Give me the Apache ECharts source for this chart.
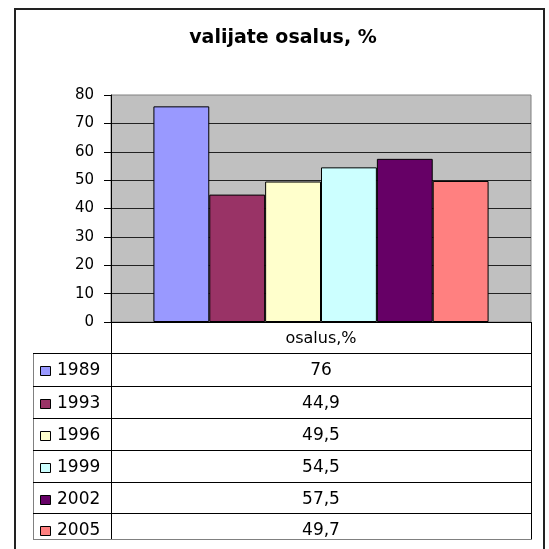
<!DOCTYPE html>
<html>
<head>
<meta charset="utf-8">
<script src="https://cdn.jsdelivr.net/npm/echarts@6/dist/echarts.min.js"></script>
<style>
html,body{margin:0;padding:0;background:#fff;}
#c{width:549px;height:549px;}
</style>
</head>
<body>
<div id="c"></div>
<script>
var titleText = 'valijate osalus, %';
var category = ['osalus,%'];
var years = ['1989', '1993', '1996', '1999', '2002', '2005'];
var values = [76, 44.9, 49.5, 54.5, 57.5, 49.7];
var valueLabels = ['76', '44,9', '49,5', '54,5', '57,5', '49,7'];
var colors = ['#9999FF', '#993366', '#FFFFCC', '#CCFFFF', '#660066', '#FF8080'];
var yTicks = [0, 10, 20, 30, 40, 50, 60, 70, 80];

var chart = echarts.init(document.getElementById('c'), null, {renderer: 'canvas'});

var plotL = 111, plotR = 531, plotT = 95, plotB = 322;
var tableL = 33;
var rowTops = [353, 386, 418, 450, 482, 513];
var tableBottom = 539;
var FONT = 'DejaVu Sans';

var series = years.map(function (y, i) {
  return {
    name: y,
    type: 'bar',
    data: [values[i]],
    barGap: '0%',
    barCategoryGap: '20.2%',
    itemStyle: {color: colors[i], borderColor: '#000', borderWidth: 1},
    emphasis: {disabled: true},
    animation: false
  };
});

var g = [];
// outer frame
g.push({type: 'rect', shape: {x: 15, y: 9, width: 529, height: 560}, style: {fill: null, stroke: '#222', lineWidth: 2}, silent: true});
// table lines
function line(x1, y1, x2, y2, c) {
  g.push({type: 'line', shape: {x1: x1, y1: y1, x2: x2, y2: y2}, style: {stroke: c || '#000', lineWidth: 1}, silent: true, z: 10});
}
line(plotL + 0.5, plotB, plotL + 0.5, tableBottom);
line(plotR + 0.5, plotB, plotR + 0.5, tableBottom);
line(tableL + 0.5, rowTops[0], tableL + 0.5, tableBottom, '#808080');
rowTops.forEach(function (t) { line(tableL, t + 0.5, plotR + 1, t + 0.5); });
line(tableL, tableBottom + 0.5, plotR + 1, tableBottom + 0.5, '#808080');
// header
g.push({type: 'text', x: (plotL + plotR) / 2, y: (plotB + rowTops[0]) / 2 + 1, style: {text: category[0], font: '16px "' + FONT + '"', fill: '#000', align: 'center', verticalAlign: 'middle'}, z: 10});
years.forEach(function (y, i) {
  var top = rowTops[i];
  var cy = top + 18;
  g.push({type: 'rect', shape: {x: 40.5, y: cy - 4.5, width: 10, height: 9}, style: {fill: colors[i], stroke: '#000', lineWidth: 1}, z: 10});
  g.push({type: 'text', x: 57, y: cy, style: {text: y, font: '17px "' + FONT + '"', fill: '#000', align: 'left', verticalAlign: 'middle'}, z: 10});
  g.push({type: 'text', x: (plotL + plotR) / 2, y: cy, style: {text: valueLabels[i], font: '17px "' + FONT + '"', fill: '#000', align: 'center', verticalAlign: 'middle'}, z: 10});
});

chart.setOption({
  animation: false,
  backgroundColor: '#fff',
  title: {
    text: titleText,
    left: 283,
    top: 29,
    padding: 0,
    textAlign: 'center',
    textStyle: {fontFamily: FONT, fontWeight: 'bold', fontSize: 19, color: '#000', lineHeight: 19}
  },
  grid: {
    left: plotL, right: 549 - plotR, top: plotT, bottom: 549 - plotB,
    show: true, backgroundColor: '#C0C0C0', borderColor: '#808080', borderWidth: 1,
    containLabel: false
  },
  xAxis: {
    type: 'category',
    data: category,
    axisLine: {show: true, lineStyle: {color: '#000', width: 1}},
    axisTick: {show: false},
    axisLabel: {show: false},
    splitLine: {show: false}
  },
  yAxis: {
    type: 'value',
    min: yTicks[0],
    max: yTicks[yTicks.length - 1],
    interval: yTicks[1] - yTicks[0],
    axisLine: {show: true, lineStyle: {color: '#000', width: 1}},
    axisTick: {show: true, length: 7, inside: false, lineStyle: {color: '#000'}},
    axisLabel: {show: true, margin: 17, color: '#000', fontFamily: FONT, fontSize: 15},
    splitLine: {show: true, showMinLine: false, showMaxLine: false, lineStyle: {color: '#222', width: 1}}
  },
  series: series,
  graphic: g
});
</script>
</body>
</html>
